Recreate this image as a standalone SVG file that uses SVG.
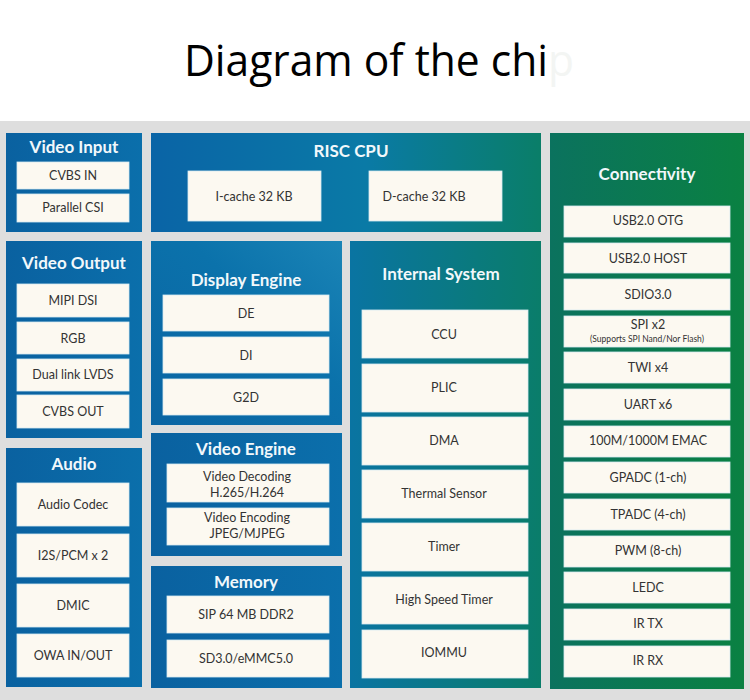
<svg xmlns="http://www.w3.org/2000/svg" width="750" height="700" viewBox="0 0 750 700">
<style>
.t{font-family:Lato,"Open Sans","Liberation Sans",sans-serif;font-weight:bold;font-size:17px;fill:#f2f8fb;text-anchor:middle}
.c{fill:#fcf9f1;stroke:#d8ecf2;stroke-width:0.8}
.l{font-family:Lato,"Open Sans","Liberation Sans",sans-serif;font-size:12.5px;fill:#333;text-anchor:middle}
.s{font-family:Lato,"Open Sans","Liberation Sans",sans-serif;font-size:8.5px;fill:#333;text-anchor:middle}
</style>
<defs>
<linearGradient id="gBlue" x1="0" y1="0" x2="1" y2="0"><stop offset="0" stop-color="#0a61a0"/><stop offset="1" stop-color="#0b6fab"/></linearGradient>
<linearGradient id="gCpu" x1="0" y1="0" x2="1" y2="0"><stop offset="0" stop-color="#0a64a6"/><stop offset="0.55" stop-color="#0a7aa6"/><stop offset="1" stop-color="#0a7e68"/></linearGradient>
<linearGradient id="gDe" x1="0" y1="1" x2="1" y2="0"><stop offset="0" stop-color="#0a64a3"/><stop offset="0.6" stop-color="#0b72ab"/><stop offset="1" stop-color="#1a84b6"/></linearGradient>
<linearGradient id="gInt" x1="0" y1="0" x2="1" y2="0"><stop offset="0" stop-color="#0a74a2"/><stop offset="1" stop-color="#0a7d6a"/></linearGradient>
<linearGradient id="gCon" x1="0" y1="0" x2="1" y2="0"><stop offset="0" stop-color="#0b725e"/><stop offset="1" stop-color="#0a8142"/></linearGradient>
</defs>
<rect x="0" y="0" width="750" height="700" fill="#ffffff"/>
<rect x="0" y="121" width="750" height="579" fill="#dedede"/>
<text x="184" y="76" font-family="'Open Sans','Noto Sans',sans-serif" font-size="44" fill="#000" textLength="390" lengthAdjust="spacingAndGlyphs">Diagram of the chi<tspan fill="#f3f5f3">p</tspan></text>

<g id="video-input">
<rect x="6" y="133" width="136" height="99" fill="url(#gBlue)"/>
<text class="t" x="74" y="153">Video Input</text>
<rect class="c" x="17" y="162" width="112" height="27"/><text class="l" x="73" y="180">CVBS IN</text>
<rect class="c" x="17" y="194" width="112" height="28"/><text class="l" x="73" y="212">Parallel CSI</text>
</g>

<g id="video-output">
<rect x="6" y="241" width="136" height="197" fill="url(#gBlue)"/>
<text class="t" x="74" y="269">Video Output</text>
<rect class="c" x="17" y="284" width="112" height="33"/><text class="l" x="73" y="305">MIPI DSI</text>
<rect class="c" x="17" y="322" width="112" height="32"/><text class="l" x="73" y="343">RGB</text>
<rect class="c" x="17" y="359" width="112" height="32"/><text class="l" x="73" y="379">Dual link LVDS</text>
<rect class="c" x="17" y="395" width="112" height="33"/><text class="l" x="73" y="416">CVBS OUT</text>
</g>

<g id="audio">
<rect x="6" y="448" width="136" height="239" fill="url(#gBlue)"/>
<text class="t" x="74" y="470">Audio</text>
<rect class="c" x="17" y="483" width="112" height="43"/><text class="l" x="73" y="509">Audio Codec</text>
<rect class="c" x="17" y="534" width="112" height="43"/><text class="l" x="73" y="560">I2S/PCM x 2</text>
<rect class="c" x="17" y="584" width="112" height="43"/><text class="l" x="73" y="610">DMIC</text>
<rect class="c" x="17" y="634" width="112" height="43"/><text class="l" x="73" y="660">OWA IN/OUT</text>
</g>

<g id="risc-cpu">
<rect x="151" y="133" width="390" height="99" fill="url(#gCpu)"/>
<text class="t" x="351" y="157">RISC CPU</text>
<rect class="c" x="188" y="171" width="133" height="50"/><text class="l" x="254" y="201">I-cache 32 KB</text>
<rect class="c" x="369" y="171" width="133" height="50"/><text class="l" x="424" y="201">D-cache 32 KB</text>
</g>

<g id="display-engine">
<rect x="151" y="241" width="191" height="184" fill="url(#gDe)"/>
<text class="t" x="246" y="286">Display Engine</text>
<rect class="c" x="163" y="295" width="166" height="36"/><text class="l" x="246" y="318">DE</text>
<rect class="c" x="163" y="337" width="166" height="36"/><text class="l" x="246" y="360">DI</text>
<rect class="c" x="163" y="379" width="166" height="36"/><text class="l" x="246" y="402">G2D</text>
</g>

<g id="video-engine">
<rect x="151" y="433" width="191" height="123" fill="url(#gBlue)"/>
<text class="t" x="246" y="455">Video Engine</text>
<rect class="c" x="167" y="464" width="162" height="38"/><text class="l" x="247" y="481">Video Decoding</text><text class="l" x="247" y="497">H.265/H.264</text>
<rect class="c" x="167" y="508" width="162" height="37"/><text class="l" x="247" y="522">Video Encoding</text><text class="l" x="247" y="538">JPEG/MJPEG</text>
</g>

<g id="memory">
<rect x="151" y="566" width="191" height="122" fill="url(#gBlue)"/>
<text class="t" x="246" y="588">Memory</text>
<rect class="c" x="167" y="596" width="162" height="37"/><text class="l" x="246" y="619">SIP 64 MB DDR2</text>
<rect class="c" x="167" y="640" width="162" height="37"/><text class="l" x="246" y="663">SD3.0/eMMC5.0</text>
</g>

<g id="internal-system">
<rect x="350" y="241" width="191" height="447" fill="url(#gInt)"/>
<text class="t" x="441" y="280">Internal System</text>
<rect class="c" x="362" y="310" width="166" height="48"/><text class="l" x="444" y="339">CCU</text>
<rect class="c" x="362" y="364" width="166" height="48"/><text class="l" x="444" y="392">PLIC</text>
<rect class="c" x="362" y="417" width="166" height="48"/><text class="l" x="444" y="445">DMA</text>
<rect class="c" x="362" y="470" width="166" height="48"/><text class="l" x="444" y="498">Thermal Sensor</text>
<rect class="c" x="362" y="523" width="166" height="48"/><text class="l" x="444" y="551">Timer</text>
<rect class="c" x="362" y="577" width="166" height="47"/><text class="l" x="444" y="604">High Speed Timer</text>
<rect class="c" x="362" y="630" width="166" height="48"/><text class="l" x="444" y="657">IOMMU</text>
</g>

<g id="connectivity">
<rect x="550" y="133" width="194" height="556" fill="url(#gCon)"/>
<text class="t" x="647" y="180">Connectivity</text>
<rect class="c" x="564" y="206" width="166" height="31"/><text class="l" x="648" y="225">USB2.0 OTG</text>
<rect class="c" x="564" y="243" width="166" height="30"/><text class="l" x="648" y="263">USB2.0 HOST</text>
<rect class="c" x="564" y="279" width="166" height="31"/><text class="l" x="648" y="299">SDIO3.0</text>
<rect class="c" x="564" y="316" width="166" height="31"/><text class="l" x="648" y="329">SPI x2</text><text class="s" x="647" y="342">(Supports SPI Nand/Nor Flash)</text>
<rect class="c" x="564" y="352" width="166" height="31"/><text class="l" x="648" y="372">TWI x4</text>
<rect class="c" x="564" y="389" width="166" height="31"/><text class="l" x="648" y="409">UART x6</text>
<rect class="c" x="564" y="426" width="166" height="31"/><text class="l" x="648" y="445">100M/1000M EMAC</text>
<rect class="c" x="564" y="462" width="166" height="31"/><text class="l" x="648" y="482">GPADC (1-ch)</text>
<rect class="c" x="564" y="499" width="166" height="31"/><text class="l" x="648" y="519">TPADC (4-ch)</text>
<rect class="c" x="564" y="536" width="166" height="31"/><text class="l" x="648" y="555">PWM (8-ch)</text>
<rect class="c" x="564" y="572" width="166" height="31"/><text class="l" x="648" y="592">LEDC</text>
<rect class="c" x="564" y="609" width="166" height="31"/><text class="l" x="648" y="628">IR TX</text>
<rect class="c" x="564" y="646" width="166" height="31"/><text class="l" x="648" y="665">IR RX</text>
</g>
<g id="connectors"/>
</svg>
